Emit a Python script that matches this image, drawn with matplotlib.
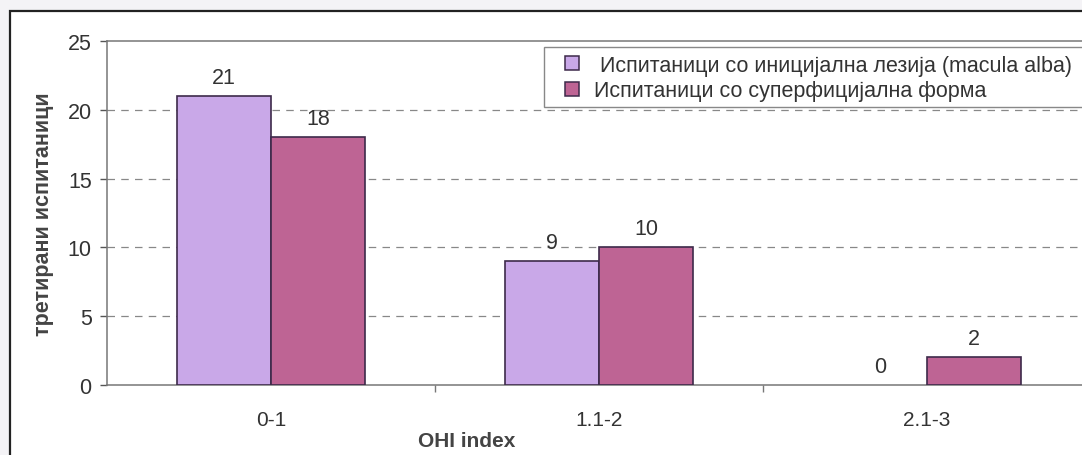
import numpy as np
import matplotlib
matplotlib.use("Agg")
import matplotlib.pyplot as plt
from matplotlib.patches import Rectangle
from matplotlib.lines import Line2D

plt.rcParams['font.family'] = ['Liberation Sans', 'DejaVu Sans']

categories = ["0-1", "1.1-2", "2.1-3"]
initial_lesion = [21, 9, 0]
superficial_form = [18, 10, 2]
series_labels = [" Испитаници со иницијална лезија (macula alba)",
                 "Испитаници со суперфицијална форма"]
y_ticks = [0, 5, 10, 15, 20, 25]

col_light = "#c9a8e8"
col_dark = "#be6494"
edge = "#3d2a4a"
text_col = "#333333"

W, H = 1082, 456
fig = plt.figure(figsize=(W / 100, H / 100), dpi=100)
fig.patch.set_facecolor("#f4f3f6")

# outer chart frame
frame = Rectangle((0.009, -0.05), 1.1, 1.024, transform=fig.transFigure,
                  facecolor="white", edgecolor="#222222", linewidth=1.6,
                  zorder=0)
fig.add_artist(frame)

ax = fig.add_axes([107 / W, 70 / H, 984 / W, 344 / H])
ax.set_facecolor("none")

x = np.arange(len(categories))
w = 0.287
b1 = ax.bar(x - w / 2, initial_lesion, w, color=col_light, edgecolor=edge,
            linewidth=1.2, zorder=3)
b2 = ax.bar(x + w / 2, superficial_form, w, color=col_dark, edgecolor=edge,
            linewidth=1.2, zorder=3)

for bars, vals in ((b1, initial_lesion), (b2, superficial_form)):
    for rect, v in zip(bars, vals):
        if v == 0:
            rect.set_linewidth(0)
        ax.annotate(str(v), (rect.get_x() + rect.get_width() / 2, v),
                    xytext=(0, 6), textcoords="offset points",
                    ha="center", va="bottom", fontsize=15.5, color=text_col)

ax.set_xlim(-0.5, 2.5)
ax.set_ylim(0, 25)
ax.set_yticks(y_ticks)
ax.tick_params(axis="y", labelsize=15.5, colors="#555555", labelcolor=text_col,
               length=5, width=1, pad=6)
ax.set_xticks(x)
ax.set_xticklabels(categories)
ax.set_xticks([0.5, 1.5], minor=True)
ax.tick_params(axis="x", which="major", length=0, labelsize=15,
               labelcolor=text_col, pad=18)
ax.tick_params(axis="x", which="minor", length=5, width=1, colors="#777777")

for yv in y_ticks[1:-1]:
    ax.axhline(yv, color="#888888", linestyle=(0, (6, 5)), linewidth=0.9,
               zorder=1)

for side in ("left", "bottom", "top", "right"):
    ax.spines[side].set_color("#777777")
    ax.spines[side].set_linewidth(1.1)

ax.set_ylabel("третирани испитаници", fontsize=15.5, fontweight="bold",
              color="#444444")
ax.yaxis.set_label_coords(-0.054, 0.5)
ax.set_xlabel("OHI index", fontsize=15, fontweight="bold", color="#444444")
ax.xaxis.set_label_coords(0.366, -0.135)

# legend: box runs off the right edge, so its frame is drawn separately
leg_box = Rectangle((544 / W, 1 - 108 / H), 600 / W, 60 / H,
                    transform=fig.transFigure, facecolor="white",
                    edgecolor="#888888", linewidth=1.0, zorder=4)
fig.add_artist(leg_box)
handles = [Line2D([], [], linestyle="none", marker="s", markersize=9.5,
                  markerfacecolor=c, markeredgecolor=edge, markeredgewidth=1.1)
           for c in (col_light, col_dark)]
leg = fig.legend(handles, series_labels, loc="upper left",
                 bbox_to_anchor=(544 / W, 1 - 50 / H), fontsize=15.5,
                 frameon=False, borderpad=0.28, labelspacing=0.2,
                 handlelength=2.0, handletextpad=0.03, borderaxespad=0)
leg.set_zorder(5)
for t in leg.get_texts():
    t.set_color(text_col)

fig.savefig("out.png", dpi=100, facecolor=fig.get_facecolor())
